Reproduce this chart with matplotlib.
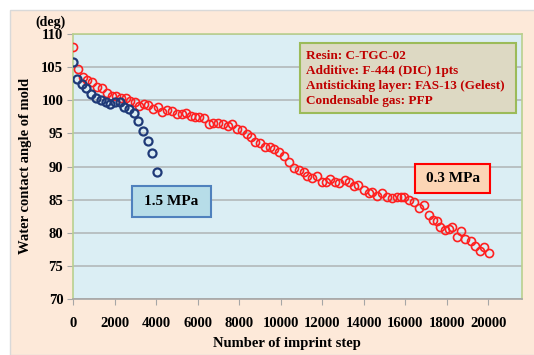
import matplotlib.pyplot as plt
from matplotlib.patches import Rectangle

# 1.5 MPa series
blue_x = [0, 210, 420, 640, 880, 1120, 1350, 1580, 1800, 2020, 2240, 2460,
          2700, 2920, 3150, 3390, 3590, 3820, 4060]
blue_y = [105.8, 103.2, 102.4, 101.8, 100.9, 100.4, 100.0, 99.8, 99.4, 99.8,
          99.8, 99.0, 98.7, 98.1, 96.9, 95.4, 93.9, 92.0, 89.1]

# 0.3 MPa series
red_x = [0, 225, 465, 690, 930, 1170, 1380, 1620, 1860, 2070, 2300, 2540,
         2750, 2990, 3200, 3420, 3630, 3870, 4110, 4270, 4510, 4760, 5000,
         5240, 5450, 5670, 5880, 6090, 6310, 6550, 6760, 7000, 7210, 7440,
         7680, 7890, 8130, 8370, 8560, 8770, 9010, 9250, 9490, 9700, 9930,
         10150, 10380, 10620, 10860, 11100, 11260, 11500, 11740, 11990,
         12160, 12380, 12630, 12790, 13080, 13270, 13510, 13720, 13990,
         14230, 14420, 14630, 14880, 15120, 15350, 15600, 15800, 15950,
         16160, 16400, 16640, 16880, 17120, 17330, 17530, 17690, 17930,
         18090, 18250, 18490, 18680, 18890, 19160, 19370, 19610, 19810, 20030]
red_y = [108.0, 104.7, 103.5, 103.1, 102.7, 102.0, 101.8, 101.1, 100.7, 100.7,
         100.4, 100.3, 99.9, 99.8, 99.1, 99.5, 99.3, 98.7, 99.0, 98.3, 98.5,
         98.4, 98.0, 98.0, 98.1, 97.6, 97.5, 97.5, 97.3, 96.4, 96.6, 96.6,
         96.4, 96.1, 96.4, 95.6, 95.5, 94.9, 94.5, 93.7, 93.5, 93.0, 92.9,
         92.6, 92.2, 91.6, 90.7, 89.7, 89.5, 89.1, 88.5, 88.2, 88.5, 87.7,
         87.7, 88.1, 87.6, 87.5, 88.0, 87.7, 87.0, 87.2, 86.5, 86.0, 86.2,
         85.5, 86.0, 85.4, 85.3, 85.4, 85.4, 85.4, 84.9, 84.7, 83.7, 84.2,
         82.7, 82.0, 81.7, 80.9, 80.4, 80.5, 80.8, 79.4, 80.3, 79.0, 78.7,
         78.0, 77.2, 77.9, 77.0]

x_ticks = list(range(0, 20001, 2000))
y_ticks = list(range(70, 111, 5))
info_lines = ["Resin: C-TGC-02", "Additive: F-444 (DIC) 1pts",
              "Antisticking layer: FAS-13 (Gelest)", "Condensable gas: PFP"]

plt.rcParams['font.family'] = ['Liberation Serif', 'DejaVu Serif']
plt.rcParams['font.weight'] = 'bold'

fig = plt.figure(figsize=(5.34, 3.55), dpi=100, facecolor='white')
# peach chart-area panel
fig.patches.append(Rectangle((10/534, 0), 1, 345/355, transform=fig.transFigure,
                             facecolor='#fde9d9', edgecolor='#d9d9d9', lw=1,
                             zorder=-10))

ax = fig.add_axes([73/534, 1 - 299/355, (522 - 73)/534, (299 - 34)/355])
ax.set_facecolor('#dbeef4')

ax.plot(red_x, red_y, 'o', mfc='none', mec='#ff2020', ms=5.8, mew=1.2, zorder=3)
ax.plot(blue_x, blue_y, 'o', mfc='none', mec='#1f3a78', ms=5.8, mew=1.6, zorder=4)

ax.set_xlim(0, 21620)
ax.set_ylim(70, 110)
ax.set_xticks(x_ticks)
ax.set_yticks(y_ticks)
ax.yaxis.grid(True, color='#b3b8ba', lw=1.2)
ax.set_axisbelow(True)
for s in ax.spines.values():
    s.set_color('#b9d08f')
    s.set_linewidth(1.2)
ax.spines['bottom'].set_color('#a6a6a6')
ax.tick_params(axis='x', direction='out', length=4, color='#a6a6a6',
               labelsize=10.5, pad=9)
ax.tick_params(axis='y', direction='out', length=4, color='#a6a6a6',
               labelsize=10.5, pad=3)
for lab in ax.get_xticklabels() + ax.get_yticklabels():
    lab.set_fontweight('bold')

fig.text(26/534, 1 - 166/355, 'Water contact angle of mold', rotation=90,
         ha='center', va='center', fontsize=10.5, fontweight='bold')
fig.text(287/534, 1 - 344/355, 'Number of imprint step', ha='center',
         va='center', fontsize=10.5, fontweight='bold')
fig.text(51/534, 1 - 22/355, '(deg)', ha='center', va='center',
         fontsize=10, fontweight='bold')

# info box
fig.patches.append(Rectangle((300/534, 1 - 113/355), 216/534, 70/355,
                             transform=fig.transFigure, facecolor='#ddd9c3',
                             edgecolor='#9bbb59', lw=1.5, zorder=5))
for i, line in enumerate(info_lines):
    fig.text(306/534, 1 - (56 + i * 15)/355, line, ha='left', va='center',
             fontsize=9.5, fontweight='bold', color='#c00000', zorder=6)

# pressure labels
fig.patches.append(Rectangle((132/534, 1 - 217/355), 79/534, 31/355,
                             transform=fig.transFigure, facecolor='#b7dde8',
                             edgecolor='#4f81bd', lw=1.5, zorder=5))
fig.text(171.5/534, 1 - 201.5/355, '1.5 MPa', ha='center', va='center',
         fontsize=11, fontweight='bold', zorder=6)
fig.patches.append(Rectangle((415/534, 1 - 193/355), 75/534, 29/355,
                             transform=fig.transFigure, facecolor='#fcd5b5',
                             edgecolor='#ff0000', lw=1.5, zorder=5))
fig.text(452.5/534, 1 - 178.5/355, '0.3 MPa', ha='center', va='center',
         fontsize=11, fontweight='bold', zorder=6)

fig.savefig('out.png', dpi=100, facecolor=fig.get_facecolor())
